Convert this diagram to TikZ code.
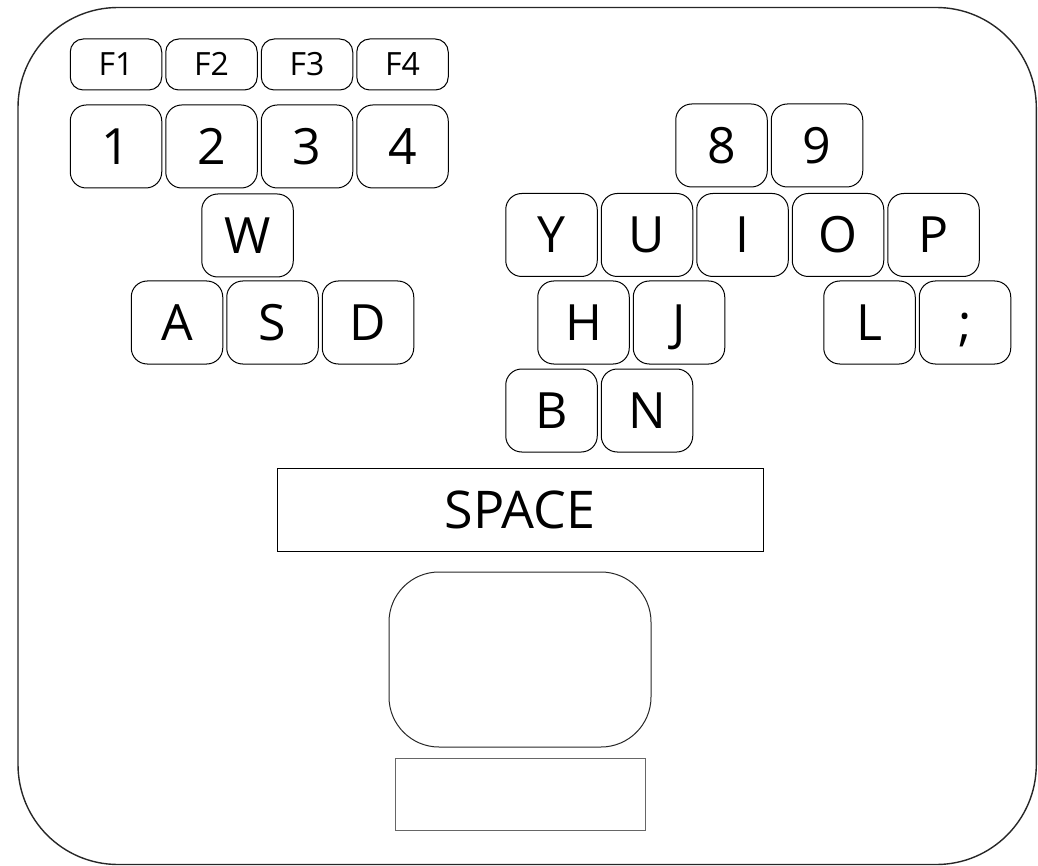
\documentclass[tikz,border=0pt]{standalone}
\usepackage{fontspec}
\setmainfont{Open Sans}
\usetikzlibrary{positioning}

\begin{document}
\begin{tikzpicture}[
    x=1pt, y=-1pt,
    node distance=3pt,
    key/.style={draw, rectangle, rounded corners=16pt, minimum width=91.5pt, minimum height=83pt, line width=1pt, inner sep=0pt, text height=36pt, text depth=0pt, font=\fontsize{50}{50}\selectfont},
    fkey/.style={key, minimum height=51pt, rounded corners=13pt, text height=23pt, font=\fontsize{32}{32}\selectfont},
    bar/.style={draw, rectangle, line width=1pt, inner sep=0pt}
]
\useasboundingbox (0,0) rectangle (1038,866);
\draw[line width=1.4pt, draw=black!85, rounded corners=100pt] (18,7.5) rectangle (1036.3,864.5);

% left hand
\node[fkey] (f1) at (116,64.5) {F1};
\node[fkey, right=of f1] (f2) {F2};
\node[fkey, right=of f2] (f3) {F3};
\node[fkey, right=of f3] (f4) {F4};
\node[key] (n1) at (116,146.5) {1};
\node[key, right=of n1] (n2) {2};
\node[key, right=of n2] (n3) {3};
\node[key, right=of n3] (n4) {4};
\node[key] (w) at (247.5,235.5) {W};
\node[key] (a) at (177,322.5) {A};
\node[key, right=of a] (s) {S};
\node[key, right=of s] (d) {D};

% right hand
\node[key] (n8) at (721.5,145.5) {8};
\node[key, right=of n8] (n9) {9};
\node[key] (y) at (551.5,235) {Y};
\node[key, right=of y] (u) {U};
\node[key, right=of u] (i) {I};
\node[key, right=of i] (o) {O};
\node[key, right=of o] (p) {P};
\node[key] (h) at (583.5,322.5) {H};
\node[key, right=of h] (j) {J};
\node[key] (l) at (869.5,322.5) {L};
\node[key, right=of l] (semi) {;};
\node[key] (b) at (551.5,410.5) {B};
\node[key, right=of b] (n) {N};

% space bar and pad
\node[bar, minimum width=486pt, minimum height=83pt, text height=37pt, text depth=0pt, font=\fontsize{52}{52}\selectfont] (space) at (520,509.5) {SPACE};
\node[bar, rounded corners=50pt, minimum width=262pt, minimum height=175pt, draw=black!85] (pad) at (520,659.5) {};
\node[bar, minimum width=250pt, minimum height=72pt, draw=black!60] (button) at (520,794) {};
\end{tikzpicture}
\end{document}
